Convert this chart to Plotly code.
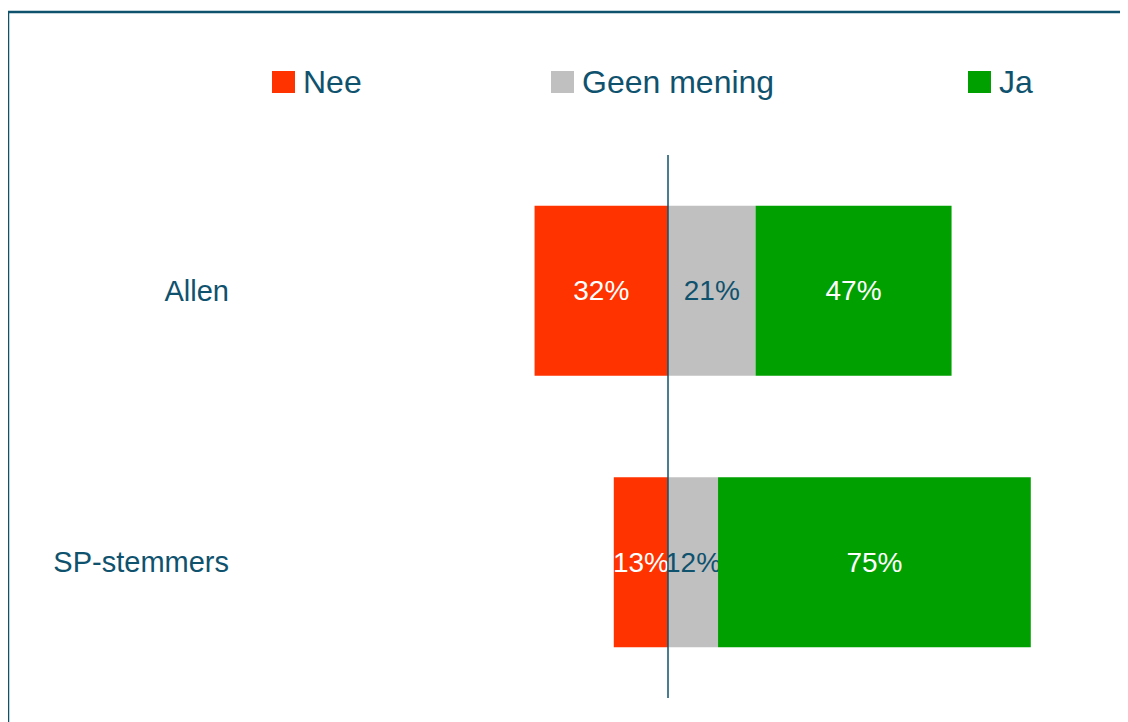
import plotly.graph_objects as go

categories = ["Allen", "SP-stemmers"]
series_names = ["Nee", "Geen mening", "Ja"]
nee = [32, 13]
geen_mening = [21, 12]
ja = [47, 75]

colors = {"Nee": "#FF3300", "Geen mening": "#C0C0C0", "Ja": "#00A000"}
text_colors = {"Nee": "white", "Geen mening": "#0F526E", "Ja": "white"}
TEAL = "#0F526E"
FONT = "Arial, Liberation Sans, sans-serif"

OFF = 8  # page body margin
W, H = 1136, 722
# plot area in page pixels: x 251..1085, y 155..698
ML = 251 - OFF
MT = 155 - OFF
MR = W - (1085 - OFF)
MB = H - (698 - OFF)

fig = go.Figure()
values = {"Nee": [-v for v in nee], "Geen mening": geen_mening, "Ja": ja}
raw = {"Nee": nee, "Geen mening": geen_mening, "Ja": ja}
for name in series_names:
    fig.add_trace(go.Bar(
        y=categories, x=values[name], orientation="h", name=name,
        marker=dict(color=colors[name], line=dict(width=0)),
        text=[f"{v}%" for v in raw[name]],
        textposition="inside", insidetextanchor="middle", textangle=0,
        constraintext="none",
        insidetextfont=dict(size=28, color=text_colors[name], family=FONT),
        width=0.626, showlegend=False,
    ))

pw = W - ML - MR
ph = H - MT - MB
def px(x):  # page pixel -> paper
    return (x - OFF - ML) / pw
def py(y):
    return (H - MB - (y - OFF)) / ph

shapes = []
annotations = []
# frame
shapes.append(dict(type="rect", xref="paper", yref="paper",
                   x0=px(8), x1=px(1180), y0=py(12), y1=py(760),
                   line=dict(color=TEAL, width=2.5), fillcolor="rgba(0,0,0,0)", layer="below"))
# zero line
shapes.append(dict(type="line", xref="x", yref="paper", x0=0, x1=0, y0=0, y1=1,
                   line=dict(color=TEAL, width=1.5), layer="above"))

# manual legend
legend_pos = {"Nee": 272, "Geen mening": 551, "Ja": 968}
for name in series_names:
    x0 = legend_pos[name]
    shapes.append(dict(type="rect", xref="paper", yref="paper",
                       x0=px(x0), x1=px(x0 + 23), y0=py(93), y1=py(71),
                       fillcolor=colors[name], line=dict(width=0)))
    annotations.append(dict(xref="paper", yref="paper", x=px(x0 + 29), y=py(82),
                            text=name, showarrow=False, xanchor="left", yanchor="middle",
                            font=dict(size=32, color=TEAL, family=FONT)))

fig.update_layout(
    width=W, height=H,
    margin=dict(l=ML, r=MR, t=MT, b=MB, pad=0),
    paper_bgcolor="white", plot_bgcolor="white",
    barmode="relative", bargap=0.374,
    shapes=shapes, annotations=annotations,
    xaxis=dict(range=[-100, 100], showgrid=False, zeroline=False,
               showticklabels=False, showline=False, ticks=""),
    yaxis=dict(categoryorder="array", categoryarray=categories,
               range=[1.5, -0.5], showgrid=False, zeroline=False, showline=False,
               ticks="", ticklabelstandoff=21,
               tickfont=dict(size=29, color=TEAL, family=FONT)),
    showlegend=False,
    font=dict(family=FONT, color=TEAL),
)

fig.write_html("out.html")
